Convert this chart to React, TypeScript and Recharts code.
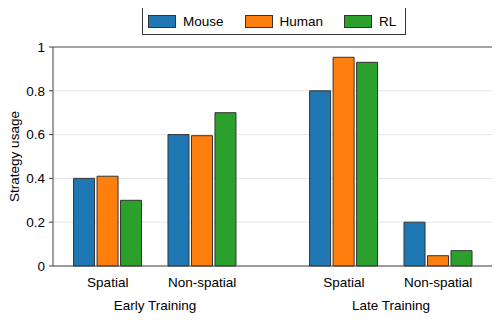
import React from "react";
import {
  BarChart,
  Bar,
  XAxis,
  YAxis,
  CartesianGrid,
  Legend,
  ReferenceLine,
} from "recharts";

const categories = ["Spatial", "Non-spatial", "Spatial", "Non-spatial"];
const positions = [0, 1, 2.5, 3.5];
const mouse = [0.4, 0.6, 0.8, 0.2];
const human = [0.41, 0.595, 0.953, 0.047];
const rl = [0.3, 0.7, 0.93, 0.07];

const phases = ["Early Training", "Late Training"];
const phasePositions = [0.5, 3];

const yTicks = [0, 0.2, 0.4, 0.6, 0.8, 1];
const yMinorTicks = [
  0.05, 0.1, 0.15, 0.25, 0.3, 0.35, 0.45, 0.5, 0.55, 0.65, 0.7, 0.75, 0.85,
  0.9, 0.95,
];

const series = [
  { key: "Mouse", color: "#1f77b4" },
  { key: "Human", color: "#ff7f0e" },
  { key: "RL", color: "#2ca02c" },
];

const data = positions.map((x, i) => ({
  x,
  Mouse: mouse[i],
  Human: human[i],
  RL: rl[i],
}));

const FONT = '"Liberation Sans", Arial, sans-serif';
const X_DOMAIN: [number, number] = [-0.58, 4.08];

const LegendBox = () => (
  <div
    style={{
      boxSizing: "border-box",
      width: 264,
      height: 28,
      border: "1px solid #333",
      background: "#fff",
      display: "flex",
      alignItems: "center",
      paddingLeft: 5,
      fontFamily: FONT,
      fontSize: 13.5,
      color: "#000",
    }}
  >
    {series.map((s, i) => (
      <div
        key={s.key}
        style={{
          display: "flex",
          alignItems: "center",
          marginRight: i < series.length - 1 ? 21 : 0,
        }}
      >
        <span
          style={{
            boxSizing: "border-box",
            display: "inline-block",
            width: 28,
            height: 13,
            background: s.color,
            border: "1px solid #333",
            marginRight: 7,
          }}
        />
        <span>{s.key}</span>
      </div>
    ))}
  </div>
);

// minor tick: short line drawn left of the axis
const MinorTick = (props: any) => (
  <line x1={props.x - 3} x2={props.x} y1={props.y} y2={props.y} stroke="#444" />
);

export default function App() {
  return (
    <div style={{ margin: "-8px 0 0 -8px", width: 500, height: 320 }}>
      <BarChart
        width={500}
        height={320}
        data={data}
        margin={{ top: 47, right: 7, bottom: 2, left: 0 }}
        barSize={21}
        barGap={2.5}
        style={{ fontFamily: FONT }}
      >
        <CartesianGrid vertical={false} stroke="#e6e6e6" />
        <XAxis
          dataKey="x"
          type="number"
          domain={X_DOMAIN}
          ticks={positions}
          tickFormatter={(v: number) => categories[positions.indexOf(v)]}
          interval={0}
          height={22}
          tickLine={false}
          tickSize={0}
          tickMargin={11}
          axisLine={{ stroke: "#444" }}
          tick={{ fill: "#000", fontSize: 13.5 }}
          allowDataOverflow
        />
        <XAxis
          xAxisId="phase"
          dataKey="x"
          type="number"
          domain={X_DOMAIN}
          ticks={phasePositions}
          tickFormatter={(v: number) => phases[phasePositions.indexOf(v)]}
          interval={0}
          height={30}
          tickLine={false}
          tickSize={0}
          tickMargin={12}
          axisLine={false}
          tick={{ fill: "#000", fontSize: 13.5 }}
          allowDataOverflow
        />
        <YAxis
          type="number"
          domain={[0, 1]}
          ticks={yTicks}
          width={53}
          tickSize={4}
          tickMargin={4}
          axisLine={{ stroke: "#444" }}
          tickLine={{ stroke: "#444" }}
          tick={{ fill: "#000", fontSize: 13.5 }}
          label={(props: any) => {
            const vb = props.viewBox || { y: 47, height: 219 };
            const cy = vb.y + vb.height / 2;
            return (
              <text
                x={14}
                y={cy}
                transform={`rotate(-90, 14, ${cy})`}
                textAnchor="middle"
                dominantBaseline="central"
                fontSize={13.5}
                fill="#000"
                fontFamily={FONT}
              >
                Strategy usage
              </text>
            );
          }}
        />
        <YAxis
          yAxisId="minor"
          type="number"
          domain={[0, 1]}
          ticks={yMinorTicks}
          interval={0}
          width={0}
          tickSize={0}
          tickMargin={0}
          axisLine={false}
          tickLine={false}
          tick={<MinorTick />}
        />
        <ReferenceLine y={1} stroke="#555" />
        <ReferenceLine x={X_DOMAIN[1]} stroke="#555" />
        <Legend
          layout="vertical"
          verticalAlign="middle"
          align="center"
          content={() => <LegendBox />}
          wrapperStyle={{ top: 7, left: 142, width: 264, height: 28 }}
        />
        {series.map((s) => (
          <Bar
            key={s.key}
            dataKey={s.key}
            fill={s.color}
            stroke="#333"
            strokeWidth={1}
            isAnimationActive={false}
          />
        ))}
      </BarChart>
    </div>
  );
}
